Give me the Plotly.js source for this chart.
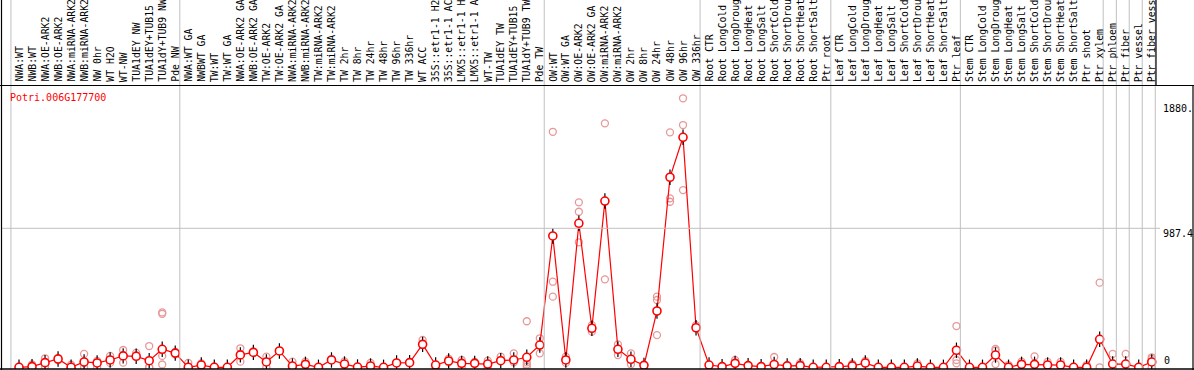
<!DOCTYPE html>
<html><head><meta charset="utf-8">
<script src="https://cdn.plot.ly/plotly-3.0.1.min.js"></script>
<style>html,body{margin:0;padding:0;background:#fff;}#chart{width:1194px;height:370px;}</style>
</head><body><div id="chart"></div>
<script>
const geneId = "Potri.006G177700";
const labels = ["NWA:WT","NWB:WT","NWA:OE-ARK2","NWB:OE-ARK2","NWA:miRNA-ARK2","NWB:miRNA-ARK2","NW 0hr","WT H2O","WT-NW","TUA1dEY NW","TUA1dEY+TUB15","TUA1dY+TUB9 NW","Pde NW",
"NWA:WT GA","NWBWT GA","TW:WT","TW:WT GA","NWA:OE-ARK2 GA","NWB:OE-ARK2 GA","TW:OE-ARK2","TW:OE-ARK2 GA","NWA:miRNA-ARK2","NWB:miRNA-ARK2","TW:miRNA-ARK2","TW:miRNA-ARK2","TW 2hr","TW 8hr","TW 24hr","TW 48hr","TW 96hr","TW 336hr","WT ACC","35S::etr1-1 H2","35S::etr1-1 AC","LMX5::etr1-1 H","LMX5::etr1-1 A","WT-TW","TUA1dEY TW","TUA1dEY+TUB15","TUA1dY+TUB9 TW","Pde TW",
"OW:WT","OW:WT GA","OW:OE-ARK2","OW:OE-ARK2 GA","OW:miRNA-ARK2","OW:miRNA-ARK2","OW 2hr","OW 8hr","OW 24hr","OW 48hr","OW 96hr","OW 336hr",
"Root CTR","Root LongCold","Root LongDroug","Root LongHeat","Root LongSalt","Root ShortCold","Root ShortDrou","Root ShortHeat","Root ShortSalt","Ptr root",
"Leaf CTR","Leaf LongCold","Leaf LongDroug","Leaf LongHeat","Leaf LongSalt","Leaf ShortCold","Leaf ShortDrou","Leaf ShortHeat","Leaf ShortSalt","Ptr leaf",
"Stem CTR","Stem LongCold","Stem LongDroug","Stem LongHeat","Stem LongSalt","Stem ShortCold","Stem ShortDrou","Stem ShortHeat","Stem ShortSalt","Ptr shoot","Ptr xylem",
"Ptr phloem","Ptr fiber","Ptr vessel","Ptr fiber vess"];

const meanValues = [0,5,33,59,0,38,31,52,81,78,47,128,101,
0,16,0,0,88,106,38,116,9,21,0,52,23,2,9,0,31,33,163,16,45,28,28,23,47,52,71,158,
933,52,1023,277,1181,128,57,14,400,1350,1634,281,
16,5,28,12,5,20,10,12,0,0,
5,10,30,0,0,0,9,0,0,121,
0,0,87,0,21,21,16,16,0,0,199,
23,23,0,38];

const N = null;
const rep1 = [5,20,64,66,18,95,45,81,123,102,151,390,110,
31,28,5,N,135,112,76,N,40,40,N,60,42,N,31,N,N,N,194,0,61,52,38,47,76,99,327,206,
1673,76,1172,300,1733,163,99,N,502,1669,1911,300,
N,N,52,N,N,73,N,30,N,N,
N,25,45,N,N,N,28,N,N,293,
N,N,130,16,40,78,38,38,N,16,601,
95,95,N,71];
const rep2 = [N,0,30,52,N,0,0,31,33,85,0,380,92,
N,5,N,N,40,N,0,N,N,N,N,N,N,N,N,N,N,N,160,N,35,0,N,0,52,35,35,99,
608,31,1105,253,625,87,21,N,478,1200,1721,N,
N,N,N,N,N,N,N,N,N,N,
N,N,N,N,N,N,N,N,N,52,
N,N,118,N,N,N,N,N,N,N,0,
N,N,N,60];
const rep3 = [N,N,5,N,N,30,N,N,N,N,0,81,N,
N,N,N,N,N,N,N,N,N,N,N,N,N,N,N,N,N,N,N,N,N,N,N,N,N,N,20,N,
502,N,888,N,N,N,N,N,229,1176,1259,N,
N,N,N,N,N,N,N,N,N,N,
N,N,N,N,N,N,N,N,N,28,
N,N,23,N,N,N,N,N,N,N,N,
N,N,N,0];
const rep4 = [N,N,N,N,N,N,N,N,N,N,N,20,N,
N,N,N,N,N,N,N,N,N,N,N,N,N,N,N,N,N,N,N,N,N,N,N,N,N,N,5,N,
N,N,N,N,N,N,N,N,N,N,N,N,
N,N,N,N,N,N,N,N,N,N,
N,N,N,N,N,N,N,N,N,N,
N,N,N,N,N,N,N,N,N,N,N,
N,N,N,N];
// group separators (positions between categories)
const separators = [-0.62, 12.35, 40.34, 52.31, 62.35, 72.3, 83.27, 84.28, 85.27, 86.27, 87.27];
const axisTicks = [0, 987.4, 1880];
const axisTickText = ["0", "987.4", "1880."];

const idx = labels.map((_, i) => i);
const rx = [], ry = [];
[rep1, rep2, rep3, rep4].forEach(r => r.forEach((v, i) => { if (v !== null) { rx.push(i); ry.push(v); } }));

const W = 1194, H = 370;
const px = x => x / W;
const py = y => (H - y) / H;
const FONT = "DejaVu Sans Mono";

const traces = [
  {x: rx, y: ry, mode: "markers", type: "scatter", hoverinfo: "skip",
   marker: {symbol: "circle-open", size: 7, color: "#e89898", line: {width: 1.3, color: "#e89898"}}},
  {x: idx, y: meanValues, mode: "lines", type: "scatter", hoverinfo: "skip",
   line: {color: "#ff0000", width: 1.2}},
  {x: idx, y: meanValues, mode: "markers", type: "scatter", hoverinfo: "skip",
   marker: {symbol: "line-ns-open", size: 11, color: "#000", line: {width: 1.2, color: "#000"}}},
  {x: idx, y: meanValues, mode: "markers", type: "scatter", hoverinfo: "skip",
   marker: {symbol: "circle", size: 8, color: "#ffffff", line: {width: 1.6, color: "#ff0000"}}}
];

const shapes = [];
separators.forEach(s => shapes.push({type: "line", xref: "x", yref: "paper", x0: s, x1: s, y0: 0, y1: py(0), line: {color: "#c0c0c0", width: 1}}));
shapes.push({type: "line", xref: "paper", yref: "y", x0: px(1), x1: px(1160), y0: axisTicks[1], y1: axisTicks[1], line: {color: "#c0c0c0", width: 1}});
// frame
shapes.push({type: "line", xref: "paper", yref: "paper", x0: px(1.5), x1: px(1.5), y0: py(0), y1: py(370), line: {color: "#000", width: 1.2}});
shapes.push({type: "line", xref: "paper", yref: "paper", x0: px(0), x1: px(1194), y0: py(85.5), y1: py(85.5), line: {color: "#000", width: 1.2}});
shapes.push({type: "line", xref: "paper", yref: "paper", x0: px(0), x1: px(1194), y0: py(369), y1: py(369), line: {color: "#000", width: 1.5}});
shapes.push({type: "line", xref: "paper", yref: "paper", x0: px(1193), x1: px(1193), y0: py(85), y1: py(370), line: {color: "#000", width: 1.2}});
shapes.push({type: "line", xref: "paper", yref: "paper", x0: px(1156), x1: px(1156), y0: py(0), y1: py(85), line: {color: "#000", width: 1.2}});

const annotations = labels.map((t, i) => ({
  text: t, x: i, xref: "x", y: py(83), yref: "paper", xanchor: "center", yanchor: "bottom",
  textangle: -90, showarrow: false, borderpad: 0, font: {family: FONT, size: 9.8, color: "#000"}
}));
annotations.push({text: geneId, x: px(9), xref: "paper", y: py(97), yref: "paper", xanchor: "left", yanchor: "middle",
  showarrow: false, borderpad: 0, font: {family: FONT, size: 10, color: "#ff0000"}});
annotations.push({text: axisTickText[2], x: px(1162), xref: "paper", y: axisTicks[2], yref: "y", xanchor: "left", yanchor: "top", yshift: 1,
  showarrow: false, borderpad: 0, font: {family: FONT, size: 10, color: "#000"}});
annotations.push({text: axisTickText[1], x: px(1162), xref: "paper", y: axisTicks[1], yref: "y", xanchor: "left", yanchor: "top", yshift: 1,
  showarrow: false, borderpad: 0, font: {family: FONT, size: 10, color: "#000"}});
annotations.push({text: axisTickText[0], x: px(1163), xref: "paper", y: axisTicks[0], yref: "y", xanchor: "left", yanchor: "bottom",
  showarrow: false, borderpad: 0, font: {family: FONT, size: 10, color: "#000"}});

const layout = {
  width: W, height: H, margin: {l: 0, r: 0, t: 0, b: 0, pad: 0},
  paper_bgcolor: "#fff", plot_bgcolor: "#fff", showlegend: false,
  xaxis: {domain: [px(1), px(1193)], range: [(1 - 19) / 13.02, (1193 - 19) / 13.02], showgrid: false, zeroline: false, showticklabels: false, ticks: "", showline: false},
  yaxis: {domain: [py(369), py(85)], range: [-12.1, 2005.4], showgrid: false, zeroline: false, showticklabels: false, ticks: "", showline: false},
  shapes: shapes, annotations: annotations
};
Plotly.newPlot("chart", traces, layout, {staticPlot: true, displayModeBar: false});
</script></body></html>
